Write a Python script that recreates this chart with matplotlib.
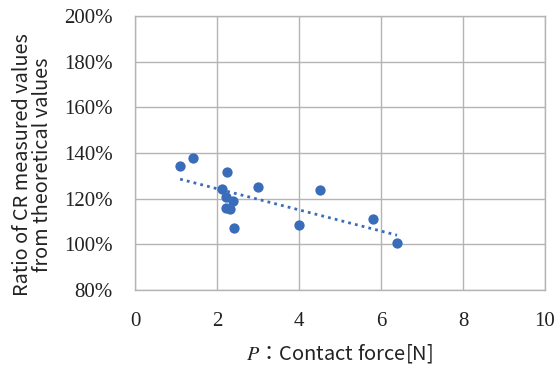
import numpy as np
import matplotlib.pyplot as plt
from matplotlib.ticker import FuncFormatter

plt.rcParams['mathtext.fontset'] = 'stix'

# contact force [N] and ratio of measured / theoretical CR [%]
force = [1.10, 1.41, 2.24, 2.12, 2.22, 2.38, 2.21, 2.32, 2.41, 3.01, 4.01, 4.50, 5.80, 6.39]
ratio = [134.3, 137.8, 131.7, 124.2, 120.6, 119.0, 116.0, 115.6, 107.3, 125.0, 108.6, 123.9, 111.2, 100.4]

x_ticks = [0, 2, 4, 6, 8, 10]
y_ticks = [80, 100, 120, 140, 160, 180, 200]

blue = '#3A6DB9'
grid_col = '#B4B4B4'

fig = plt.figure(figsize=(5.57, 3.68), dpi=100)
ax = fig.add_axes([0.2424, 0.212, 0.7361, 0.7445])

ax.scatter(force, ratio, s=55, color=blue, zorder=3, linewidths=0)

# linear trendline
k, c = np.polyfit(force, ratio, 1)
xs = np.array([min(force), max(force)])
ax.plot(xs, k * xs + c, color=blue, linestyle=(0, (1, 1.5)), linewidth=2, zorder=2)

ax.set_xlim(0, 10)
ax.set_ylim(80, 200)
ax.set_xticks(x_ticks)
ax.set_yticks(y_ticks)
ax.yaxis.set_major_formatter(FuncFormatter(lambda v, p: f'{v:.0f}%'))
ax.grid(True, color=grid_col, linewidth=1)
ax.set_axisbelow(True)
for s in ax.spines.values():
    s.set_color(grid_col)
    s.set_linewidth(1)
ax.tick_params(length=0, labelsize=15, labelcolor='#222222')
ax.tick_params(axis='x', pad=16)
ax.tick_params(axis='y', pad=16)
for lab in ax.get_xticklabels() + ax.get_yticklabels():
    lab.set_family('Liberation Serif')

ax.set_ylabel('Ratio of CR measured values\nfrom theoretical values',
              family='Noto Sans CJK JP', fontsize=14.3, color='#222222',
              linespacing=0.95)
ax.yaxis.set_label_coords(-0.20, 0.456)
ax.set_xlabel('$P$\uff1aContact force[N]', family=['Noto Sans CJK JP', 'DejaVu Sans'],
              fontsize=14.5, color='#222222', labelpad=8)

fig.savefig('out.png', dpi=100)
